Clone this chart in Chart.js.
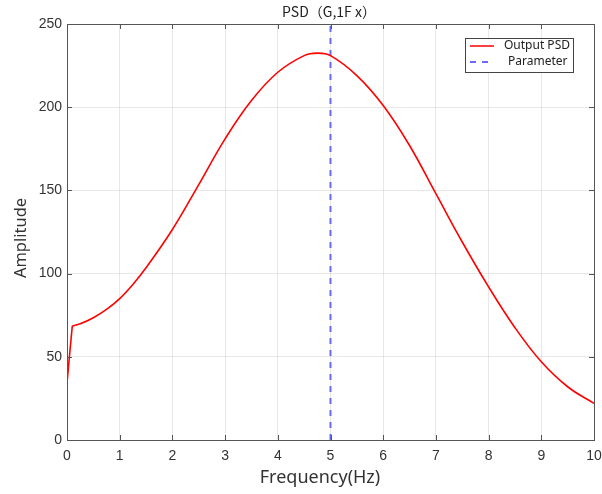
<!DOCTYPE html>
<html><head><meta charset="utf-8">
<script src="https://cdn.jsdelivr.net/npm/chart.js@4"></script>
<style>html,body{margin:0;padding:0;background:#fff}#wrap{width:602px;height:494px}</style>
</head><body><div id="wrap"><canvas id="c" width="602" height="494"></canvas></div>
<script>
const freq = [0, 0.1, 0.25, 0.5, 0.75, 1, 1.25, 1.5, 2, 2.5, 3, 3.5, 4, 4.5, 4.75, 5, 5.5, 6, 6.5, 7, 7.5, 8, 8.5, 9, 9.5, 10];
const psd  = [34.5, 68.5, 69.8, 73.5, 78.5, 85, 93.5, 103.5, 126.5, 153.5, 181, 204, 221, 231, 232.5, 231, 219, 201, 177, 148, 119, 92, 67.5, 47, 32, 22];
const paramX = [5, 5];
const paramY = [0, 250];
const xTicks = [0,1,2,3,4,5,6,7,8,9,10];
const yTicks = [0,50,100,150,200,250];
const titleText = 'PSD（G,1F x）';
const xTitle = 'Frequency(Hz)';
const yTitle = 'Amplitude';
const seriesNames = ['Output PSD', 'Parameter'];

const FONT = '"Noto Sans", "Open Sans", sans-serif';
const TICKFONT = '"Liberation Sans", Arial, sans-serif';
const RED = '#ff0000';
const BLUE = 'rgba(90,90,255,0.9)';
const frame = {
  id: 'frame',
  afterDraw(chart) {
    const {ctx, chartArea: a, scales: {x, y}} = chart;
    ctx.save();
    ctx.strokeStyle = '#555';
    ctx.lineWidth = 1;
    ctx.strokeRect(a.left + 0.5, a.top + 0.5, a.right - a.left, a.bottom - a.top);
    ctx.beginPath();
    xTicks.forEach(t => {
      const px = Math.round(x.getPixelForValue(t)) + 0.5;
      ctx.moveTo(px, a.bottom); ctx.lineTo(px, a.bottom - 5);
      ctx.moveTo(px, a.top); ctx.lineTo(px, a.top + 5);
    });
    yTicks.forEach(t => {
      const py = Math.round(y.getPixelForValue(t)) + 0.5;
      ctx.moveTo(a.left, py); ctx.lineTo(a.left + 5, py);
      ctx.moveTo(a.right, py); ctx.lineTo(a.right - 5, py);
    });
    ctx.stroke();
    // title
    ctx.fillStyle = '#222';
    ctx.font = '14px "Noto Sans CJK JP", sans-serif';
    ctx.textAlign = 'center'; ctx.textBaseline = 'middle';
    ctx.fillText(titleText, 329, 12);
    // axis titles
    ctx.fillStyle = '#333';
    ctx.font = '18px ' + FONT;
    ctx.fillText(xTitle, 320, 478);
    ctx.save();
    ctx.translate(21, 238);
    ctx.rotate(-Math.PI / 2);
    ctx.font = '16.5px ' + FONT;
    ctx.fillText(yTitle, 0, 0);
    ctx.restore();
    // legend
    const bx = 465, by = 38, bw = 108, bh = 34;
    ctx.fillStyle = '#fff';
    ctx.fillRect(bx, by, bw, bh);
    ctx.strokeStyle = '#444';
    ctx.lineWidth = 1;
    ctx.strokeRect(bx + 0.5, by + 0.5, bw, bh);
    ctx.lineWidth = 1.5;
    ctx.strokeStyle = RED;
    ctx.beginPath(); ctx.moveTo(470, 46); ctx.lineTo(494, 46); ctx.stroke();
    ctx.strokeStyle = BLUE;
    ctx.lineWidth = 2;
    ctx.setLineDash([6, 6]);
    ctx.beginPath(); ctx.moveTo(470, 62); ctx.lineTo(494, 62); ctx.stroke();
    ctx.setLineDash([]);
    ctx.fillStyle = '#222';
    ctx.font = '12px ' + FONT;
    ctx.textAlign = 'left';
    ctx.fillText(seriesNames[0], 504, 46);
    ctx.fillText(seriesNames[1], 508, 62);
    ctx.restore();
  }
};

const pts = freq.map((f, i) => ({x: f, y: psd[i]}));
new Chart(document.getElementById('c'), {
  type: 'line',
  data: {
    datasets: [
      { label: seriesNames[0], data: pts.slice(0, 2),
        borderColor: RED, borderWidth: 1.6, pointRadius: 0, fill: false },
      { label: seriesNames[0], data: pts.slice(1),
        borderColor: RED, borderWidth: 1.6, pointRadius: 0, tension: 0.4, fill: false },
      { label: seriesNames[1], data: paramX.map((f, i) => ({x: f, y: paramY[i]})),
        borderColor: BLUE, borderWidth: 2, borderDash: [6, 6], pointRadius: 0, fill: false }
    ]
  },
  options: {
    responsive: false, animation: false,
    layout: { padding: { top: 24, right: 8, left: 0, bottom: 0 } },
    plugins: { legend: { display: false }, title: { display: false }, tooltip: { enabled: false } },
    scales: {
      x: {
        type: 'linear', min: 0, max: 10,
        afterBuildTicks: s => { s.ticks = xTicks.map(v => ({value: v})); },
        afterFit: s => { s.height = 54; s.paddingLeft = 0; s.paddingRight = 0; },
        grid: { color: 'rgba(0,0,0,0.09)', drawTicks: false },
        border: { display: false },
        ticks: { color: '#333', font: { size: 14, family: TICKFONT }, padding: 8, maxRotation: 0 }
      },
      y: {
        min: 0, max: 250,
        afterBuildTicks: s => { s.ticks = yTicks.map(v => ({value: v})); },
        afterFit: s => { s.width = 67; s.paddingTop = 0; s.paddingBottom = 0; },
        grid: { color: 'rgba(0,0,0,0.09)', drawTicks: false },
        border: { display: false },
        ticks: { color: '#333', font: { size: 14, family: TICKFONT }, padding: 5 }
      }
    }
  },
  plugins: [frame]
});
</script></body></html>
